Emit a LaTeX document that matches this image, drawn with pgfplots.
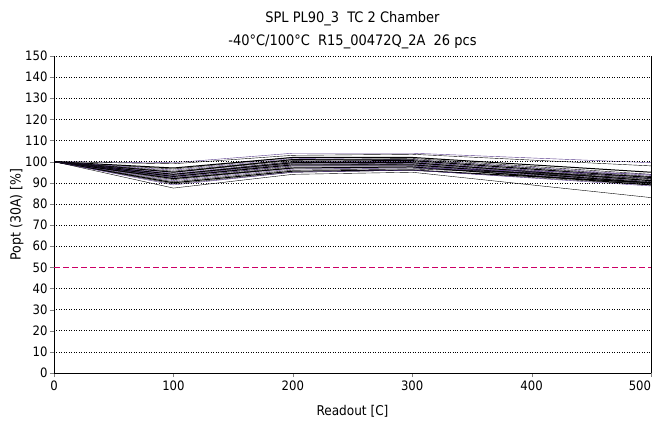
\documentclass[border=0pt]{standalone}
\usepackage{fontspec}
\setmainfont{DejaVu Sans Condensed}
\usepackage{pgfplots}
\pgfplotsset{compat=1.18}
\definecolor{plotpurple}{RGB}{88,58,140}
\definecolor{refmag}{RGB}{204,0,102}
\begin{document}
\begin{tikzpicture}
\useasboundingbox (-54bp,-51bp) rectangle (598bp,373bp);
\begin{axis}[
  name=ax,
  at={(0,0)}, anchor=south west,
  scale only axis, width=597bp, height=317bp,
  xmin=0, xmax=500, ymin=0, ymax=150,
  xtick={0,100,...,500}, ytick={0,10,...,150},
  xticklabels={0,100,200,300,400,\makebox[0pt][r]{500}},
  axis line style={line width=0.8pt},
  axis x line*=bottom, axis y line*=left,
  tick align=outside, major tick length=4bp,
  yticklabel style={font=\fontsize{13}{15}\selectfont, xshift=1bp},
  xticklabel style={font=\fontsize{13}{15}\selectfont},
  /pgf/number format/assume math mode=true,
  xlabel={Readout [C]}, ylabel={Popt (30A) [\%]},
  xlabel style={font=\fontsize{13.5}{15}\selectfont, yshift=-8bp},
  ylabel style={font=\fontsize{14}{15}\selectfont, yshift=-5bp},
  title style={font=\fontsize{14.5}{23}\selectfont, align=center, yshift=-2bp},
  title={SPL PL90\_3\ \ TC 2 Chamber\\-40°C/100°C\ \ R15\_00472Q\_2A\ \ 26 pcs},
  cycle list={{color=plotpurple, solid, line width=1pt, mark=none}},
]
\addplot coordinates {(0,100)(100,99.5)(200,104)(300,104)(500,99.5)};
\addplot coordinates {(0,100)(100,99)(200,103)(300,103.5)(500,98)};
\addplot coordinates {(0,100)(100,97)(200,102)(300,102)(500,95)};
\addplot coordinates {(0,100)(100,96.5)(200,102)(300,101.5)(500,94)};
\addplot coordinates {(0,100)(100,96)(200,101.5)(300,101)(500,93.5)};
\addplot coordinates {(0,100)(100,95.5)(200,101)(300,101)(500,93)};
\addplot coordinates {(0,100)(100,95)(200,101)(300,100.5)(500,92.5)};
\addplot coordinates {(0,100)(100,95)(200,100.5)(300,100)(500,92)};
\addplot coordinates {(0,100)(100,94.5)(200,100)(300,100)(500,92)};
\addplot coordinates {(0,100)(100,94)(200,100)(300,99.5)(500,91.5)};
\addplot coordinates {(0,100)(100,94)(200,99.5)(300,99.5)(500,91)};
\addplot coordinates {(0,100)(100,93.5)(200,99.5)(300,99)(500,91)};
\addplot coordinates {(0,100)(100,93.5)(200,99)(300,99)(500,90.5)};
\addplot coordinates {(0,100)(100,93)(200,99)(300,98.5)(500,90.5)};
\addplot coordinates {(0,100)(100,93)(200,98.5)(300,98.5)(500,90)};
\addplot coordinates {(0,100)(100,92.5)(200,98)(300,98)(500,90)};
\addplot coordinates {(0,100)(100,92.5)(200,98)(300,98)(500,89.5)};
\addplot coordinates {(0,100)(100,92)(200,97.5)(300,97.5)(500,89.5)};
\addplot coordinates {(0,100)(100,92)(200,97)(300,97.5)(500,89)};
\addplot coordinates {(0,100)(100,91.5)(200,97)(300,97)(500,92)};
\addplot coordinates {(0,100)(100,91)(200,96.5)(300,97)(500,94)};
\addplot coordinates {(0,100)(100,90.5)(200,96)(300,96.5)(500,93)};
\addplot coordinates {(0,100)(100,90)(200,95.5)(300,96)(500,90)};
\addplot coordinates {(0,100)(100,89.5)(200,95)(300,96)(500,89)};
\addplot coordinates {(0,100)(100,89)(200,95)(300,96)(500,88.5)};
\addplot coordinates {(0,100)(100,87.5)(200,94)(300,95)(500,83)};
\addplot[color=refmag, solid, line width=1.5pt, dash pattern=on 6bp off 3bp, mark=none] coordinates {(0,50)(500,50)};
\end{axis}
\foreach \v in {1,2,3,4,6,7,8,9,10,11,12,13,14,15} {\draw[black, dotted, line width=0.5pt] (0,{\v*317/15*1bp}) -- (597bp,{\v*317/15*1bp});}
\draw[black, solid, line width=0.8pt] (ax.south east) -- (ax.north east);
\end{tikzpicture}
\end{document}
